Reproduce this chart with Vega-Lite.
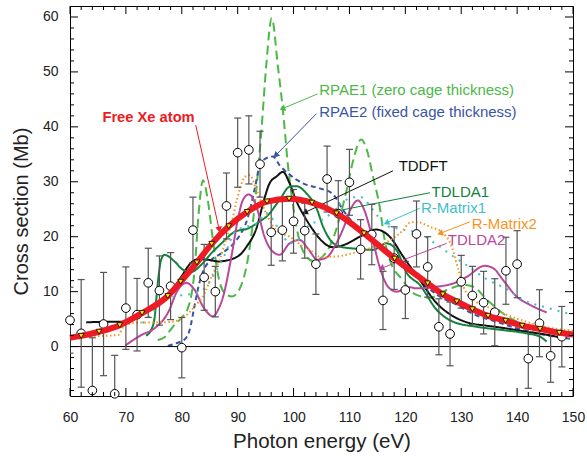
{
  "$schema": "https://vega.github.io/schema/vega-lite/v6.json",
  "width": 503,
  "height": 390,
  "autosize": {"type": "none"},
  "padding": {"left": 70, "top": 6, "right": 14, "bottom": 63},
  "config": {
    "font": "Liberation Sans",
    "view": {"stroke": "black", "strokeWidth": 1},
    "axis": {"domain": false, "grid": false, "ticks": false, "labelFlush": false, "labelOverlap": false, "labelFont": "Liberation Sans", "labelFontSize": 14, "labelColor": "#222", "titleFont": "Liberation Sans", "titleFontWeight": "normal", "titleColor": "#222"}
  },
  "datasets": {
    "xt": [
      {"v": 60, "major": 1}, {"v": 62, "major": 0}, {"v": 64, "major": 0}, {"v": 66, "major": 0}, {"v": 68, "major": 0},
      {"v": 70, "major": 1}, {"v": 72, "major": 0}, {"v": 74, "major": 0}, {"v": 76, "major": 0}, {"v": 78, "major": 0},
      {"v": 80, "major": 1}, {"v": 82, "major": 0}, {"v": 84, "major": 0}, {"v": 86, "major": 0}, {"v": 88, "major": 0},
      {"v": 90, "major": 1}, {"v": 92, "major": 0}, {"v": 94, "major": 0}, {"v": 96, "major": 0}, {"v": 98, "major": 0},
      {"v": 100, "major": 1}, {"v": 102, "major": 0}, {"v": 104, "major": 0}, {"v": 106, "major": 0}, {"v": 108, "major": 0},
      {"v": 110, "major": 1}, {"v": 112, "major": 0}, {"v": 114, "major": 0}, {"v": 116, "major": 0}, {"v": 118, "major": 0},
      {"v": 120, "major": 1}, {"v": 122, "major": 0}, {"v": 124, "major": 0}, {"v": 126, "major": 0}, {"v": 128, "major": 0},
      {"v": 130, "major": 1}, {"v": 132, "major": 0}, {"v": 134, "major": 0}, {"v": 136, "major": 0}, {"v": 138, "major": 0},
      {"v": 140, "major": 1}, {"v": 142, "major": 0}, {"v": 144, "major": 0}, {"v": 146, "major": 0}, {"v": 148, "major": 0},
      {"v": 150, "major": 1}
    ],
    "yt": [
      {"v": -8, "major": 0}, {"v": -6, "major": 0}, {"v": -4, "major": 0}, {"v": -2, "major": 0},
      {"v": 0, "major": 1}, {"v": 2, "major": 0}, {"v": 4, "major": 0}, {"v": 6, "major": 0}, {"v": 8, "major": 0},
      {"v": 10, "major": 1}, {"v": 12, "major": 0}, {"v": 14, "major": 0}, {"v": 16, "major": 0}, {"v": 18, "major": 0},
      {"v": 20, "major": 1}, {"v": 22, "major": 0}, {"v": 24, "major": 0}, {"v": 26, "major": 0}, {"v": 28, "major": 0},
      {"v": 30, "major": 1}, {"v": 32, "major": 0}, {"v": 34, "major": 0}, {"v": 36, "major": 0}, {"v": 38, "major": 0},
      {"v": 40, "major": 1}, {"v": 42, "major": 0}, {"v": 44, "major": 0}, {"v": 46, "major": 0}, {"v": 48, "major": 0},
      {"v": 50, "major": 1}, {"v": 52, "major": 0}, {"v": 54, "major": 0}, {"v": 56, "major": 0}, {"v": 58, "major": 0},
      {"v": 60, "major": 1}
    ],
    "exp": [
      {"x": 60, "y": 4.8, "err": 6},
      {"x": 62, "y": 2.4, "err": 9.8},
      {"x": 64, "y": -8.0, "err": 9.6},
      {"x": 66, "y": 4.1, "err": 9.4},
      {"x": 68, "y": -8.6, "err": 7},
      {"x": 70, "y": 7.0, "err": 7.5},
      {"x": 72, "y": 5.8, "err": 6.6},
      {"x": 74, "y": 11.6, "err": 6.3},
      {"x": 76, "y": 10.2, "err": 6.3},
      {"x": 78, "y": 11.0, "err": 6.1},
      {"x": 80, "y": -0.2, "err": 5.5},
      {"x": 82, "y": 21.2, "err": 6},
      {"x": 84, "y": 12.6, "err": 6},
      {"x": 86, "y": 10.0, "err": 4.6},
      {"x": 88, "y": 25.6, "err": 6},
      {"x": 90, "y": 35.3, "err": 6.3},
      {"x": 92, "y": 35.8, "err": 6.2},
      {"x": 94, "y": 33.2, "err": 6},
      {"x": 96, "y": 20.8, "err": 6},
      {"x": 98, "y": 21.2, "err": 5.6},
      {"x": 100, "y": 22.8, "err": 5.8},
      {"x": 102, "y": 21.1, "err": 5},
      {"x": 104, "y": 15.0, "err": 5.5},
      {"x": 106, "y": 30.5, "err": 6},
      {"x": 108, "y": 24.2, "err": 6},
      {"x": 110, "y": 29.9, "err": 6},
      {"x": 112, "y": 17.7, "err": 5.4},
      {"x": 114, "y": 20.4, "err": 5.5},
      {"x": 116, "y": 8.4, "err": 5.3},
      {"x": 118, "y": 16.1, "err": 5.7},
      {"x": 120, "y": 10.3, "err": 5.2},
      {"x": 122, "y": 20.5, "err": 6},
      {"x": 124, "y": 14.5, "err": 5.5},
      {"x": 126, "y": 3.6, "err": 5.1},
      {"x": 128, "y": 2.3, "err": 5.8},
      {"x": 130, "y": 11.8, "err": 4.8},
      {"x": 132, "y": 9.3, "err": 5.3},
      {"x": 134, "y": 8.0, "err": 5.7},
      {"x": 136, "y": 6.25, "err": 6.1},
      {"x": 138, "y": 13.8, "err": 6.1},
      {"x": 140, "y": 15.0, "err": 6.1},
      {"x": 142, "y": -2.2, "err": 5.4},
      {"x": 144, "y": 4.25, "err": 6.1},
      {"x": 146, "y": -1.7, "err": 4.8},
      {"x": 148, "y": 1.8, "err": 5.5}
    ],
    "xe": [
      {"x": 60, "y": 1.6, "m": 0},
      {"x": 62, "y": 1.95, "m": 1},
      {"x": 65.2, "y": 2.7, "m": 1},
      {"x": 68.9, "y": 3.9, "m": 1},
      {"x": 72.9, "y": 6.1, "m": 1},
      {"x": 77.5, "y": 9.2, "m": 1},
      {"x": 79.8, "y": 11.8, "m": 1},
      {"x": 82.7, "y": 15.3, "m": 1},
      {"x": 85.35, "y": 18.7, "m": 1},
      {"x": 88.4, "y": 21.9, "m": 1},
      {"x": 91.7, "y": 24.5, "m": 1},
      {"x": 95.25, "y": 26.4, "m": 1},
      {"x": 99.2, "y": 26.9, "m": 1},
      {"x": 103.3, "y": 26.2, "m": 1},
      {"x": 107.7, "y": 24.25, "m": 1},
      {"x": 112.6, "y": 20.6, "m": 1},
      {"x": 118.1, "y": 16.0, "m": 1},
      {"x": 124, "y": 11.5, "m": 1},
      {"x": 126.7, "y": 9.5, "m": 1},
      {"x": 129.2, "y": 8.2, "m": 1},
      {"x": 132, "y": 6.8, "m": 1},
      {"x": 134.8, "y": 5.6, "m": 1},
      {"x": 137.95, "y": 4.7, "m": 1},
      {"x": 140.9, "y": 3.8, "m": 1},
      {"x": 144.1, "y": 3.2, "m": 1},
      {"x": 147.55, "y": 2.5, "m": 1},
      {"x": 150, "y": 2.2, "m": 0}
    ],
    "curves": [
      {"model": "RPAE1", "x": 75.7, "y": 1.2},
      {"model": "RPAE1", "x": 76.9, "y": 1.7},
      {"model": "RPAE1", "x": 78.4, "y": 3.6},
      {"model": "RPAE1", "x": 79.9, "y": 5.2},
      {"model": "RPAE1", "x": 81.1, "y": 7},
      {"model": "RPAE1", "x": 82.3, "y": 14},
      {"model": "RPAE1", "x": 83.0, "y": 24},
      {"model": "RPAE1", "x": 83.8, "y": 30.3},
      {"model": "RPAE1", "x": 84.6, "y": 27},
      {"model": "RPAE1", "x": 85.5, "y": 20},
      {"model": "RPAE1", "x": 86.5, "y": 13},
      {"model": "RPAE1", "x": 87.6, "y": 9.8},
      {"model": "RPAE1", "x": 89.0, "y": 9.1},
      {"model": "RPAE1", "x": 90.4, "y": 10.6},
      {"model": "RPAE1", "x": 91.8, "y": 15.8},
      {"model": "RPAE1", "x": 92.7, "y": 22.4},
      {"model": "RPAE1", "x": 93.6, "y": 31.5},
      {"model": "RPAE1", "x": 94.3, "y": 40},
      {"model": "RPAE1", "x": 95.1, "y": 51},
      {"model": "RPAE1", "x": 96.1, "y": 59.8},
      {"model": "RPAE1", "x": 97.2, "y": 51},
      {"model": "RPAE1", "x": 98.1, "y": 43},
      {"model": "RPAE1", "x": 99.0, "y": 33},
      {"model": "RPAE1", "x": 100.0, "y": 25},
      {"model": "RPAE1", "x": 101.0, "y": 19.5},
      {"model": "RPAE1", "x": 102.2, "y": 16.5},
      {"model": "RPAE1", "x": 103.7, "y": 15.5},
      {"model": "RPAE1", "x": 105.0, "y": 16.2},
      {"model": "RPAE1", "x": 106.5, "y": 18.3},
      {"model": "RPAE1", "x": 108.0, "y": 22.5},
      {"model": "RPAE1", "x": 109.5, "y": 28.5},
      {"model": "RPAE1", "x": 110.7, "y": 34},
      {"model": "RPAE1", "x": 112.1, "y": 37.7},
      {"model": "RPAE1", "x": 113.2, "y": 35.5},
      {"model": "RPAE1", "x": 114.2, "y": 31},
      {"model": "RPAE1", "x": 115.4, "y": 25.5},
      {"model": "RPAE1", "x": 116.3, "y": 19.4},
      {"model": "RPAE1", "x": 117.5, "y": 15},
      {"model": "RPAE1", "x": 119.2, "y": 12.5},
      {"model": "RPAE1", "x": 122.0, "y": 9.4},
      {"model": "RPAE1", "x": 124.4, "y": 8.9},
      {"model": "RPAE1", "x": 127.4, "y": 10.3},
      {"model": "RPAE1", "x": 130.4, "y": 11.2},
      {"model": "RPAE1", "x": 132.2, "y": 10.9},
      {"model": "RPAE1", "x": 134.5, "y": 8.6},
      {"model": "RPAE1", "x": 136.3, "y": 7},
      {"model": "RPAE1", "x": 137.8, "y": 5.8},
      {"model": "RPAE1", "x": 140.0, "y": 4.5},
      {"model": "RPAE1", "x": 142.0, "y": 3.7},
      {"model": "RPAE1", "x": 145.0, "y": 2.8},

      {"model": "RPAE2", "x": 77.5, "y": 0.1},
      {"model": "RPAE2", "x": 79.0, "y": 0.6},
      {"model": "RPAE2", "x": 80.5, "y": 1.3},
      {"model": "RPAE2", "x": 81.4, "y": 3},
      {"model": "RPAE2", "x": 82.3, "y": 7.5},
      {"model": "RPAE2", "x": 83.2, "y": 11.8},
      {"model": "RPAE2", "x": 84.1, "y": 14.3},
      {"model": "RPAE2", "x": 85.3, "y": 15.8},
      {"model": "RPAE2", "x": 86.5, "y": 16.6},
      {"model": "RPAE2", "x": 88.0, "y": 17.6},
      {"model": "RPAE2", "x": 89.8, "y": 19.4},
      {"model": "RPAE2", "x": 91.85, "y": 23.6},
      {"model": "RPAE2", "x": 93.0, "y": 28.5},
      {"model": "RPAE2", "x": 93.9, "y": 32.7},
      {"model": "RPAE2", "x": 94.8, "y": 34.1},
      {"model": "RPAE2", "x": 96.3, "y": 34.6},
      {"model": "RPAE2", "x": 97.5, "y": 33},
      {"model": "RPAE2", "x": 99.3, "y": 31.3},
      {"model": "RPAE2", "x": 101.7, "y": 29.7},
      {"model": "RPAE2", "x": 104.7, "y": 28.8},
      {"model": "RPAE2", "x": 107.0, "y": 27.8},
      {"model": "RPAE2", "x": 108.9, "y": 24.8},
      {"model": "RPAE2", "x": 112.0, "y": 21},
      {"model": "RPAE2", "x": 116.0, "y": 17.6},
      {"model": "RPAE2", "x": 118.0, "y": 16},
      {"model": "RPAE2", "x": 120.8, "y": 14.2},
      {"model": "RPAE2", "x": 124.0, "y": 10.8},
      {"model": "RPAE2", "x": 126.0, "y": 9.2},
      {"model": "RPAE2", "x": 129.2, "y": 7.6},
      {"model": "RPAE2", "x": 132.0, "y": 6},
      {"model": "RPAE2", "x": 136.3, "y": 4.5},
      {"model": "RPAE2", "x": 142.3, "y": 2.7},
      {"model": "RPAE2", "x": 150.0, "y": 1.35},

      {"model": "TDDFT", "x": 62.9, "y": 4.4},
      {"model": "TDDFT", "x": 66.0, "y": 4.5},
      {"model": "TDDFT", "x": 68.9, "y": 4.5},
      {"model": "TDDFT", "x": 70.5, "y": 4.8},
      {"model": "TDDFT", "x": 72.75, "y": 5.8},
      {"model": "TDDFT", "x": 75.0, "y": 7.5},
      {"model": "TDDFT", "x": 78.1, "y": 10},
      {"model": "TDDFT", "x": 79.9, "y": 12.7},
      {"model": "TDDFT", "x": 81.7, "y": 15.3},
      {"model": "TDDFT", "x": 82.9, "y": 15.9},
      {"model": "TDDFT", "x": 84.7, "y": 15.8},
      {"model": "TDDFT", "x": 86.5, "y": 15.5},
      {"model": "TDDFT", "x": 88.9, "y": 15.9},
      {"model": "TDDFT", "x": 90.7, "y": 17},
      {"model": "TDDFT", "x": 91.6, "y": 18.2},
      {"model": "TDDFT", "x": 93.35, "y": 21.5},
      {"model": "TDDFT", "x": 94.8, "y": 27},
      {"model": "TDDFT", "x": 95.7, "y": 29.7},
      {"model": "TDDFT", "x": 97.0, "y": 31},
      {"model": "TDDFT", "x": 98.1, "y": 31.8},
      {"model": "TDDFT", "x": 99.3, "y": 29.7},
      {"model": "TDDFT", "x": 100.5, "y": 26.5},
      {"model": "TDDFT", "x": 102.0, "y": 23.6},
      {"model": "TDDFT", "x": 103.5, "y": 21.2},
      {"model": "TDDFT", "x": 104.7, "y": 19.6},
      {"model": "TDDFT", "x": 107.0, "y": 18.1},
      {"model": "TDDFT", "x": 109.5, "y": 18.7},
      {"model": "TDDFT", "x": 111.85, "y": 20},
      {"model": "TDDFT", "x": 114.8, "y": 21.3},
      {"model": "TDDFT", "x": 117.2, "y": 20},
      {"model": "TDDFT", "x": 119.6, "y": 16.4},
      {"model": "TDDFT", "x": 122.6, "y": 12.1},
      {"model": "TDDFT", "x": 125.6, "y": 7.9},
      {"model": "TDDFT", "x": 128.6, "y": 5.5},
      {"model": "TDDFT", "x": 131.55, "y": 4.25},
      {"model": "TDDFT", "x": 134.55, "y": 3.8},
      {"model": "TDDFT", "x": 138.1, "y": 3.3},
      {"model": "TDDFT", "x": 141.7, "y": 2.7},
      {"model": "TDDFT", "x": 145.0, "y": 2.2},
      {"model": "TDDFT", "x": 148.0, "y": 1.6},

      {"model": "TDLDA1", "x": 73.6, "y": 2},
      {"model": "TDLDA1", "x": 74.5, "y": 3},
      {"model": "TDLDA1", "x": 75.1, "y": 5},
      {"model": "TDLDA1", "x": 75.7, "y": 11.5},
      {"model": "TDLDA1", "x": 76.3, "y": 15.8},
      {"model": "TDLDA1", "x": 76.9, "y": 16.7},
      {"model": "TDLDA1", "x": 78.7, "y": 15.5},
      {"model": "TDLDA1", "x": 80.2, "y": 14},
      {"model": "TDLDA1", "x": 81.7, "y": 13.6},
      {"model": "TDLDA1", "x": 83.5, "y": 14.9},
      {"model": "TDLDA1", "x": 85.3, "y": 17},
      {"model": "TDLDA1", "x": 87.1, "y": 18.8},
      {"model": "TDLDA1", "x": 89.5, "y": 20.9},
      {"model": "TDLDA1", "x": 91.85, "y": 21.5},
      {"model": "TDLDA1", "x": 94.25, "y": 23},
      {"model": "TDLDA1", "x": 95.1, "y": 23.6},
      {"model": "TDLDA1", "x": 97.5, "y": 26.7},
      {"model": "TDLDA1", "x": 99.3, "y": 29.1},
      {"model": "TDLDA1", "x": 100.5, "y": 29.2},
      {"model": "TDLDA1", "x": 102.3, "y": 27.9},
      {"model": "TDLDA1", "x": 104.1, "y": 25.2},
      {"model": "TDLDA1", "x": 105.3, "y": 21.8},
      {"model": "TDLDA1", "x": 106.5, "y": 19.5},
      {"model": "TDLDA1", "x": 108.3, "y": 18.2},
      {"model": "TDLDA1", "x": 111.3, "y": 17.8},
      {"model": "TDLDA1", "x": 114.2, "y": 17.6},
      {"model": "TDLDA1", "x": 116.6, "y": 18.8},
      {"model": "TDLDA1", "x": 118.4, "y": 17.6},
      {"model": "TDLDA1", "x": 120.2, "y": 13.5},
      {"model": "TDLDA1", "x": 122.6, "y": 11.2},
      {"model": "TDLDA1", "x": 125.6, "y": 6.7},
      {"model": "TDLDA1", "x": 128.6, "y": 4.5},
      {"model": "TDLDA1", "x": 132.75, "y": 3.6},
      {"model": "TDLDA1", "x": 137.5, "y": 3.0},
      {"model": "TDLDA1", "x": 141.7, "y": 2.4},
      {"model": "TDLDA1", "x": 144.1, "y": 1.8},
      {"model": "TDLDA1", "x": 145.3, "y": 0.9},

      {"model": "TDLDA2", "x": 69.9, "y": 0.2},
      {"model": "TDLDA2", "x": 72.75, "y": 2.1},
      {"model": "TDLDA2", "x": 75.1, "y": 3.3},
      {"model": "TDLDA2", "x": 77.5, "y": 6.1},
      {"model": "TDLDA2", "x": 79.3, "y": 10.3},
      {"model": "TDLDA2", "x": 80.8, "y": 11.6},
      {"model": "TDLDA2", "x": 82.3, "y": 10.3},
      {"model": "TDLDA2", "x": 83.8, "y": 7.3},
      {"model": "TDLDA2", "x": 85.6, "y": 5.5},
      {"model": "TDLDA2", "x": 86.5, "y": 6.7},
      {"model": "TDLDA2", "x": 87.4, "y": 9.1},
      {"model": "TDLDA2", "x": 88.9, "y": 16.5},
      {"model": "TDLDA2", "x": 90.1, "y": 23.5},
      {"model": "TDLDA2", "x": 90.95, "y": 26.7},
      {"model": "TDLDA2", "x": 92.0, "y": 27.7},
      {"model": "TDLDA2", "x": 93.35, "y": 25.5},
      {"model": "TDLDA2", "x": 94.8, "y": 20},
      {"model": "TDLDA2", "x": 96.0, "y": 17.6},
      {"model": "TDLDA2", "x": 97.5, "y": 16.7},
      {"model": "TDLDA2", "x": 99.3, "y": 18.8},
      {"model": "TDLDA2", "x": 101.1, "y": 19.4},
      {"model": "TDLDA2", "x": 102.6, "y": 17.8},
      {"model": "TDLDA2", "x": 104.3, "y": 15.8},
      {"model": "TDLDA2", "x": 105.9, "y": 16.2},
      {"model": "TDLDA2", "x": 107.5, "y": 18.5},
      {"model": "TDLDA2", "x": 108.9, "y": 21.5},
      {"model": "TDLDA2", "x": 110.2, "y": 25},
      {"model": "TDLDA2", "x": 111.5, "y": 26.6},
      {"model": "TDLDA2", "x": 112.6, "y": 25},
      {"model": "TDLDA2", "x": 113.9, "y": 20.6},
      {"model": "TDLDA2", "x": 115.4, "y": 14.5},
      {"model": "TDLDA2", "x": 116.9, "y": 10.9},
      {"model": "TDLDA2", "x": 118.4, "y": 10},
      {"model": "TDLDA2", "x": 120.8, "y": 10.8},
      {"model": "TDLDA2", "x": 122.0, "y": 10.6},
      {"model": "TDLDA2", "x": 125.6, "y": 10.9},
      {"model": "TDLDA2", "x": 128.6, "y": 11.5},
      {"model": "TDLDA2", "x": 131.0, "y": 12.7},
      {"model": "TDLDA2", "x": 134.2, "y": 14.7},
      {"model": "TDLDA2", "x": 135.75, "y": 14.25},
      {"model": "TDLDA2", "x": 137.5, "y": 12.1},
      {"model": "TDLDA2", "x": 139.9, "y": 9.1},
      {"model": "TDLDA2", "x": 142.3, "y": 7.6},
      {"model": "TDLDA2", "x": 145.3, "y": 6.2},

      {"model": "R-Matrix1", "x": 73.0, "y": 4.25},
      {"model": "R-Matrix1", "x": 74.5, "y": 5.8},
      {"model": "R-Matrix1", "x": 76.5, "y": 8},
      {"model": "R-Matrix1", "x": 78.7, "y": 9.1},
      {"model": "R-Matrix1", "x": 80.5, "y": 9.4},
      {"model": "R-Matrix1", "x": 82.3, "y": 9.7},
      {"model": "R-Matrix1", "x": 84.0, "y": 10.5},
      {"model": "R-Matrix1", "x": 86.0, "y": 13.5},
      {"model": "R-Matrix1", "x": 87.4, "y": 16.1},
      {"model": "R-Matrix1", "x": 89.8, "y": 21.2},
      {"model": "R-Matrix1", "x": 91.6, "y": 21.8},
      {"model": "R-Matrix1", "x": 93.5, "y": 22.5},
      {"model": "R-Matrix1", "x": 95.1, "y": 24.3},
      {"model": "R-Matrix1", "x": 97.5, "y": 21.2},
      {"model": "R-Matrix1", "x": 99.3, "y": 18.8},
      {"model": "R-Matrix1", "x": 101.0, "y": 19.5},
      {"model": "R-Matrix1", "x": 102.9, "y": 22.2},
      {"model": "R-Matrix1", "x": 105.0, "y": 23},
      {"model": "R-Matrix1", "x": 107.0, "y": 24.5},
      {"model": "R-Matrix1", "x": 109.0, "y": 26.5},
      {"model": "R-Matrix1", "x": 111.85, "y": 27.3},
      {"model": "R-Matrix1", "x": 114.2, "y": 24.9},
      {"model": "R-Matrix1", "x": 116.6, "y": 22},
      {"model": "R-Matrix1", "x": 119.6, "y": 21.3},
      {"model": "R-Matrix1", "x": 122.6, "y": 20.6},
      {"model": "R-Matrix1", "x": 125.3, "y": 18.8},
      {"model": "R-Matrix1", "x": 128.6, "y": 16.4},
      {"model": "R-Matrix1", "x": 131.0, "y": 14.8},
      {"model": "R-Matrix1", "x": 134.5, "y": 12.3},
      {"model": "R-Matrix1", "x": 138.1, "y": 10.5},
      {"model": "R-Matrix1", "x": 141.1, "y": 8.5},
      {"model": "R-Matrix1", "x": 145.3, "y": 7.1},
      {"model": "R-Matrix1", "x": 150.0, "y": 5.8},

      {"model": "R-Matrix2", "x": 60.0, "y": 1.8},
      {"model": "R-Matrix2", "x": 64.0, "y": 1.9},
      {"model": "R-Matrix2", "x": 68.6, "y": 2.1},
      {"model": "R-Matrix2", "x": 69.8, "y": 3.9},
      {"model": "R-Matrix2", "x": 72.75, "y": 4.4},
      {"model": "R-Matrix2", "x": 75.1, "y": 4.4},
      {"model": "R-Matrix2", "x": 78.1, "y": 4.5},
      {"model": "R-Matrix2", "x": 80.5, "y": 5.45},
      {"model": "R-Matrix2", "x": 82.3, "y": 7.3},
      {"model": "R-Matrix2", "x": 84.1, "y": 9.7},
      {"model": "R-Matrix2", "x": 85.3, "y": 12.7},
      {"model": "R-Matrix2", "x": 86.8, "y": 15.8},
      {"model": "R-Matrix2", "x": 87.7, "y": 18.8},
      {"model": "R-Matrix2", "x": 88.9, "y": 22.5},
      {"model": "R-Matrix2", "x": 89.8, "y": 26.5},
      {"model": "R-Matrix2", "x": 91.3, "y": 30.9},
      {"model": "R-Matrix2", "x": 92.15, "y": 31.2},
      {"model": "R-Matrix2", "x": 93.35, "y": 28.5},
      {"model": "R-Matrix2", "x": 95.1, "y": 24.25},
      {"model": "R-Matrix2", "x": 96.9, "y": 21.2},
      {"model": "R-Matrix2", "x": 99.3, "y": 20},
      {"model": "R-Matrix2", "x": 101.7, "y": 18.2},
      {"model": "R-Matrix2", "x": 103.8, "y": 17},
      {"model": "R-Matrix2", "x": 104.7, "y": 16.3},
      {"model": "R-Matrix2", "x": 107.7, "y": 16.4},
      {"model": "R-Matrix2", "x": 110.65, "y": 17},
      {"model": "R-Matrix2", "x": 114.0, "y": 18},
      {"model": "R-Matrix2", "x": 117.8, "y": 19.7},
      {"model": "R-Matrix2", "x": 119.6, "y": 21.2},
      {"model": "R-Matrix2", "x": 120.8, "y": 22.55},
      {"model": "R-Matrix2", "x": 122.0, "y": 22.7},
      {"model": "R-Matrix2", "x": 124.4, "y": 21.8},
      {"model": "R-Matrix2", "x": 126.8, "y": 20.6},
      {"model": "R-Matrix2", "x": 128.3, "y": 18.2},
      {"model": "R-Matrix2", "x": 129.5, "y": 13.9},
      {"model": "R-Matrix2", "x": 130.4, "y": 10.9},
      {"model": "R-Matrix2", "x": 132.2, "y": 8.5},
      {"model": "R-Matrix2", "x": 134.55, "y": 7.3},
      {"model": "R-Matrix2", "x": 138.1, "y": 5.8},
      {"model": "R-Matrix2", "x": 141.7, "y": 4.5},
      {"model": "R-Matrix2", "x": 146.5, "y": 3.3},
      {"model": "R-Matrix2", "x": 150.0, "y": 2.9}
    ],
    "labels": [
      {"model": "RPAE1", "text": "RPAE1 (zero cage thickness)", "x": 104.6, "y": 46.7},
      {"model": "RPAE2", "text": "RPAE2 (fixed cage thickness)", "x": 104.6, "y": 42.7},
      {"model": "TDDFT", "text": "TDDFT", "x": 118.8, "y": 32.9},
      {"model": "TDLDA1", "text": "TDLDA1", "x": 124.7, "y": 28.2},
      {"model": "R-Matrix1", "text": "R-Matrix1", "x": 122.8, "y": 25.3},
      {"model": "R-Matrix2", "text": "R-Matrix2", "x": 131.9, "y": 22.4},
      {"model": "TDLDA2", "text": "TDLDA2", "x": 127.6, "y": 19.4}
    ],
    "xelabel": [
      {"text": "Free Xe atom", "x": 65.8, "y": 41.6}
    ],
    "arrows": [
      {"model": "RPAE1", "x": 104.3, "y": 46.0, "x2": 98.0, "y2": 43.3},
      {"model": "RPAE2", "x": 104.1, "y": 42.4, "x2": 96.8, "y2": 34.8},
      {"model": "Free Xe atom", "x": 82.5, "y": 40.3, "x2": 86.7, "y2": 21.3},
      {"model": "TDDFT", "x": 117.8, "y": 32.0, "x2": 102.0, "y2": 24.4},
      {"model": "TDLDA1", "x": 124.4, "y": 28.0, "x2": 107.3, "y2": 24.6},
      {"model": "R-Matrix1", "x": 122.6, "y": 25.2, "x2": 116.6, "y2": 22.5},
      {"model": "R-Matrix2", "x": 131.55, "y": 22.7, "x2": 126.2, "y2": 20.6},
      {"model": "TDLDA2", "x": 127.4, "y": 18.8, "x2": 115.7, "y2": 14.25}
    ]
  },
  "layer": [
    {
      "data": {"name": "curves"},
      "mark": {"type": "line", "interpolate": "monotone"},
      "encoding": {
        "x": {"field": "x", "type": "quantitative", "scale": {"domain": [60, 150], "nice": false, "zero": false},
          "axis": {"orient": "bottom", "values": [60, 70, 80, 90, 100, 110, 120, 130, 140, 150], "labelPadding": 14, "title": "Photon energy (eV)", "titleFontSize": 20.5, "titlePadding": 7}},
        "y": {"field": "y", "type": "quantitative", "scale": {"domain": [-9, 62], "nice": false, "zero": false},
          "axis": {"orient": "left", "values": [0, 10, 20, 30, 40, 50, 60], "labelPadding": 12, "title": "Cross section (Mb)", "titleFontSize": 20, "titlePadding": 11, "titleY": 205}},
        "color": {"field": "model", "type": "nominal", "legend": null,
          "scale": {"domain": ["RPAE1", "RPAE2", "TDDFT", "TDLDA1", "R-Matrix1", "R-Matrix2", "TDLDA2", "Free Xe atom"],
                    "range": ["#4cb848", "#3954a5", "#111111", "#12813c", "#3fbfc9", "#f7941d", "#b9479d", "#ed1c24"]}},
        "strokeDash": {"field": "model", "type": "nominal", "legend": null,
          "scale": {"domain": ["RPAE1", "RPAE2", "TDDFT", "TDLDA1", "R-Matrix1", "R-Matrix2", "TDLDA2"],
                    "range": [[9, 5], [5, 3.5], [1, 0], [1, 0], [2, 6], [1.5, 2.5], [1, 0]]}},
        "strokeWidth": {"field": "model", "type": "nominal", "legend": null,
          "scale": {"domain": ["RPAE1", "RPAE2", "TDDFT", "TDLDA1", "R-Matrix1", "R-Matrix2", "TDLDA2"],
                    "range": [2, 2, 1.5, 1.5, 2.5, 1.6, 1.5]}}
      }
    },
    {
      "data": {"values": [{"z": 0}]},
      "mark": {"type": "rule", "color": "black", "strokeWidth": 1},
      "encoding": {"y": {"field": "z", "type": "quantitative"}}
    },
    {
      "data": {"name": "arrows"},
      "mark": {"type": "rule", "strokeWidth": 1},
      "encoding": {
        "x": {"field": "x", "type": "quantitative"},
        "y": {"field": "y", "type": "quantitative"},
        "x2": {"field": "x2"},
        "y2": {"field": "y2"},
        "color": {"field": "model", "type": "nominal", "legend": null}
      }
    },
    {
      "data": {"name": "arrows"},
      "transform": [{"calculate": "atan2((datum.x2 - datum.x) * 5.589, (datum.y2 - datum.y) * 5.493) * 180 / PI", "as": "ang"}],
      "mark": {"type": "point", "shape": "triangle-up", "filled": true, "size": 45, "opacity": 1},
      "encoding": {
        "x": {"field": "x2", "type": "quantitative"},
        "y": {"field": "y2", "type": "quantitative"},
        "angle": {"field": "ang", "type": "quantitative", "scale": null},
        "color": {"field": "model", "type": "nominal", "legend": null}
      }
    },
    {
      "data": {"name": "exp"},
      "transform": [{"calculate": "datum.y - datum.err", "as": "lo"}, {"calculate": "datum.y + datum.err", "as": "hi"}, {"fold": ["lo", "hi"], "as": ["end", "ey"]}],
      "mark": {"type": "point", "shape": "stroke", "filled": false, "color": "#555", "strokeWidth": 1.2, "size": 50, "opacity": 1, "clip": true},
      "encoding": {"x": {"field": "x", "type": "quantitative"}, "y": {"field": "ey", "type": "quantitative"}}
    },
    {
      "data": {"name": "exp"},
      "transform": [{"calculate": "datum.y - datum.err", "as": "lo"}, {"calculate": "datum.y + datum.err", "as": "hi"}],
      "mark": {"type": "rule", "color": "#555", "strokeWidth": 1.2, "clip": true},
      "encoding": {"x": {"field": "x", "type": "quantitative"}, "y": {"field": "lo", "type": "quantitative"}, "y2": {"field": "hi"}}
    },
    {
      "data": {"name": "exp"},
      "mark": {"type": "point", "filled": true, "fill": "white", "stroke": "black", "strokeWidth": 1, "size": 75, "opacity": 1},
      "encoding": {
        "x": {"field": "x", "type": "quantitative"},
        "y": {"field": "y", "type": "quantitative"}
      }
    },
    {
      "data": {"name": "xe"},
      "mark": {"type": "line", "color": "#ed1c24", "strokeWidth": 6, "interpolate": "monotone"},
      "encoding": {
        "x": {"field": "x", "type": "quantitative"},
        "y": {"field": "y", "type": "quantitative"}
      }
    },
    {
      "data": {"name": "xe"},
      "transform": [{"filter": "datum.m == 1"}],
      "mark": {"type": "point", "shape": "triangle-down", "filled": true, "fill": "#ffe800", "stroke": "black", "strokeWidth": 0.8, "size": 32, "opacity": 1},
      "encoding": {
        "x": {"field": "x", "type": "quantitative"},
        "y": {"field": "y", "type": "quantitative"}
      }
    },
    {
      "data": {"name": "labels"},
      "mark": {"type": "text", "align": "left", "baseline": "middle", "fontSize": 15, "font": "Liberation Sans"},
      "encoding": {
        "x": {"field": "x", "type": "quantitative"},
        "y": {"field": "y", "type": "quantitative"},
        "text": {"field": "text"},
        "color": {"field": "model", "type": "nominal", "legend": null}
      }
    },
    {
      "data": {"name": "xelabel"},
      "mark": {"type": "text", "align": "left", "baseline": "middle", "fontSize": 14.7, "fontWeight": "bold", "color": "#ed1c24", "font": "Liberation Sans"},
      "encoding": {
        "x": {"field": "x", "type": "quantitative"},
        "y": {"field": "y", "type": "quantitative"},
        "text": {"field": "text"}
      }
    },
    {
      "data": {"name": "xt"},
      "transform": [{"calculate": "-9", "as": "a"}, {"calculate": "-9 + (datum.major == 1 ? 1.46 : 0.73)", "as": "b"}],
      "mark": {"type": "rule", "color": "black", "strokeWidth": 1},
      "encoding": {"x": {"field": "v", "type": "quantitative"}, "y": {"field": "a", "type": "quantitative"}, "y2": {"field": "b"}}
    },
    {
      "data": {"name": "xt"},
      "transform": [{"calculate": "62", "as": "a"}, {"calculate": "62 - (datum.major == 1 ? 1.46 : 0.73)", "as": "b"}],
      "mark": {"type": "rule", "color": "black", "strokeWidth": 1},
      "encoding": {"x": {"field": "v", "type": "quantitative"}, "y": {"field": "a", "type": "quantitative"}, "y2": {"field": "b"}}
    },
    {
      "data": {"name": "yt"},
      "transform": [{"calculate": "60", "as": "a"}, {"calculate": "60 + (datum.major == 1 ? 1.43 : 0.72)", "as": "b"}],
      "mark": {"type": "rule", "color": "black", "strokeWidth": 1},
      "encoding": {"y": {"field": "v", "type": "quantitative"}, "x": {"field": "a", "type": "quantitative"}, "x2": {"field": "b"}}
    },
    {
      "data": {"name": "yt"},
      "transform": [{"calculate": "150", "as": "a"}, {"calculate": "150 - (datum.major == 1 ? 1.43 : 0.72)", "as": "b"}],
      "mark": {"type": "rule", "color": "black", "strokeWidth": 1},
      "encoding": {"y": {"field": "v", "type": "quantitative"}, "x": {"field": "a", "type": "quantitative"}, "x2": {"field": "b"}}
    }
  ]
}
